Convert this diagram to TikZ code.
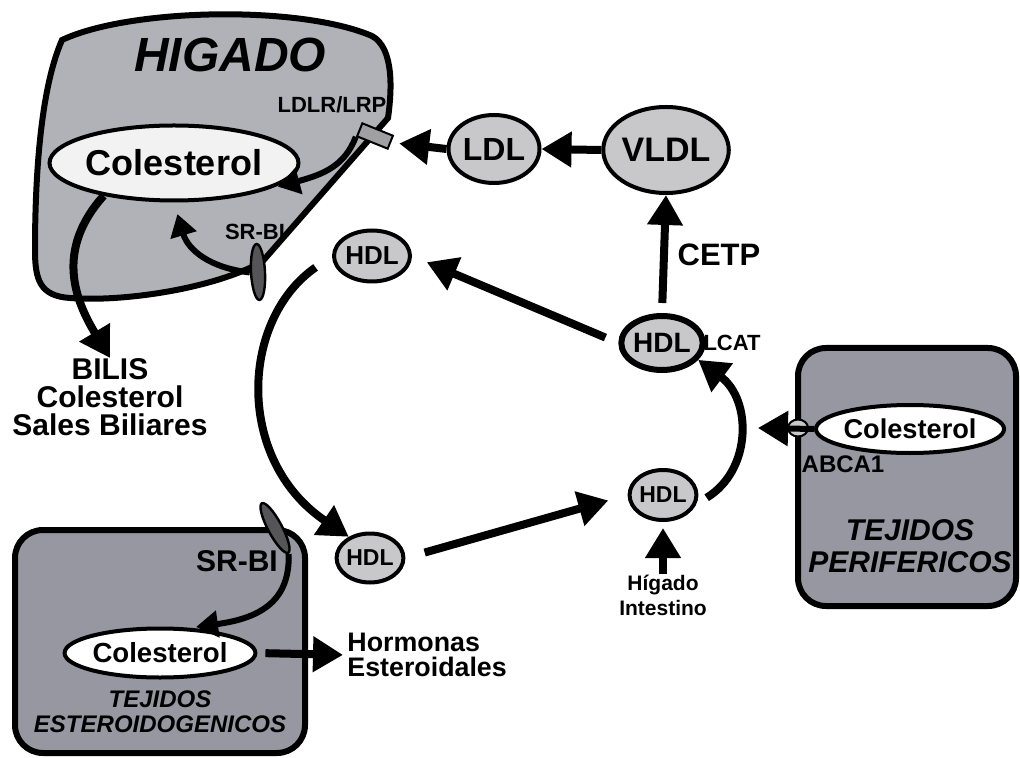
\documentclass[tikz,border=0pt]{standalone}
\usepackage{fontspec}
\setmainfont{Liberation Sans}
\usetikzlibrary{shapes.geometric,arrows.meta,calc}

\definecolor{liverfill}{RGB}{176,178,184}
\definecolor{tissuefill}{RGB}{150,151,160}
\definecolor{lipfill}{RGB}{200,200,202}
\definecolor{srfill}{RGB}{85,85,88}

\newcommand\bfz[2]{\fontsize{#1}{#2}\selectfont\bfseries}

\tikzset{
  organ/.style={draw, line width=3pt, fill=liverfill},
  tissue/.style={draw, line width=3pt, fill=tissuefill, rounded corners=14pt},
  lip/.style={ellipse, draw, line width=2pt, fill=lipfill, inner sep=0pt},
  col/.style={ellipse, draw, line width=2pt, fill=white, inner sep=0pt},
  srbi/.style={ellipse, draw, line width=1.2pt, fill=srfill, inner sep=0pt, minimum width=28pt, minimum height=7pt},
  lbl/.style={inner sep=0pt, align=center},
  flow/.style={line width=4pt, -{Triangle[length=15pt,width=17pt]}},
  inflow/.style={line width=3pt, -{Triangle[length=11pt,width=13pt]}},
}

\begin{document}
\begin{tikzpicture}[x=0.5pt, y=-0.5pt]
  \useasboundingbox (0,0) rectangle (1020,758);
  % organs and tissues
  \draw[organ] (62,40) .. controls (130,8) and (300,5) .. (372,36) .. controls (394,48) and (392,90) .. (388,118) -- (262,262) .. controls (210,290) and (120,302) .. (70,298) .. controls (40,296) and (35,280) .. (35,250) .. controls (35,180) and (40,90) .. (62,40) -- cycle;
  \draw[tissue] (15,530) rectangle (305,753);
  \draw[tissue] (798,348) rectangle (1016,606);

  \node[lbl, font=\bfz{24}{24}\itshape] (higado) at (230,55) {HIGADO};
  \node[lbl, font=\bfz{11}{11}] (ldlrlbl) at (332,105) {LDLR/LRP};
  \node[rectangle, draw, line width=1pt, fill=lipfill!80!black, inner sep=0pt, minimum width=16.5pt, minimum height=7pt, rotate=-22] (ldlr) at (375,136) {};
  \node[col, fill=white!95!black, minimum width=114pt, minimum height=37.5pt, font=\bfz{18}{18}] (colh) at (174,163) {Colesterol};
  \node[lbl, font=\bfz{11}{11}] (srbllbl) at (255,232) {SR-BI};
  \node[srbi, rotate=-87] (srbl) at (258,272) {};
  \node[lbl, font=\bfz{15}{14}] (bilis) at (110,397) {BILIS\\Colesterol\\Sales Biliares};

  % lipoproteins
  \node[lip, minimum width=45.5pt, minimum height=34pt, font=\bfz{16}{16}] (ldl) at (494,149) {LDL};
  \node[lip, minimum width=54pt, minimum height=43pt, font=\bfz{17}{17}] (vldl) at (666,150) {VLDL};
  \node[lip, line width=3pt, minimum width=35.5pt, minimum height=27pt, font=\bfz{14}{14}] (hdlm) at (662,343) {HDL};
  \node[lip, minimum width=38pt, minimum height=25.5pt, font=\bfz{13}{13}] (hdla) at (372,256) {HDL};
  \node[lip, minimum width=30.5pt, minimum height=24.5pt, font=\bfz{11.5}{11.5}] (hdlc) at (370,558) {HDL};
  \node[lip, minimum width=29.5pt, minimum height=25pt, font=\bfz{11.5}{11.5}] (hdln) at (663,495) {HDL};
  \node[lbl, font=\bfz{15.5}{15.5}] (cetp) at (719,255) {CETP};
  \node[lbl, font=\bfz{11}{11}] (lcat) at (732,343) {LCAT};
  \node[lbl, font=\bfz{10.5}{12.5}] (hig) at (663,595) {Hígado\\Intestino};

  % peripheral tissues
  \node[col, minimum width=78pt, minimum height=24pt, font=\bfz{13.6}{13.6}] (colp) at (910,429) {Colesterol};
  \node[ellipse, draw, line width=1pt, fill=lipfill, inner sep=0pt, minimum width=10pt, minimum height=8.5pt] (abca) at (798,428) {};
  \coordinate (efflux) at (758,428);
  \node[lbl, font=\bfz{12}{12}] (abcalbl) at (843,464) {ABCA1};
  \node[lbl, font=\bfz{15}{16}\itshape] (perif) at (910,546) {TEJIDOS\\PERIFERICOS};

  % steroidogenic tissues
  \node[srbi, rotate=-62] (srbs) at (275,528) {};
  \node[lbl, font=\bfz{15}{15}] (srbslbl) at (237,561) {SR-BI};
  \node[col, minimum width=78pt, minimum height=24.5pt, font=\bfz{13.8}{13.8}] (cols) at (160,653) {Colesterol};
  \node[lbl, font=\bfz{12}{12.5}\itshape] (ester) at (160,712) {TEJIDOS\\ESTEROIDOGENICOS};
  \node[lbl, align=left, anchor=west, font=\bfz{13.4}{12.5}] (horm) at (347,655) {Hormonas\\Esteroidales};

  % fluxes
  \draw[flow] (vldl.west) -- (ldl.east);
  \draw[flow, shorten >=4pt] (ldl.west) -- (ldlr.east);
  \draw[inflow, shorten >=4pt] (ldlr.south west) .. controls (345,165) and (325,174) .. (colh.-15);
  \draw[inflow, shorten >=6pt] (srbl.south) .. controls (210,268) and (188,250) .. (colh.south);
  \draw[flow] (colh.205) .. controls (55,250) and (75,300) .. (bilis.north);
  \draw[flow, shorten <=5pt] (hdlm.north) -- (vldl.south);
  \draw[flow, shorten <=7pt, shorten >=8pt] (hdlm.west) -- (hdla.east);
  \draw[flow, shorten <=10pt] (hdla.west) .. controls (240,320) and (235,460) .. (hdlc.135);
  \draw[flow, shorten <=10pt, shorten >=10pt] (hdlc.east) -- (hdln.west);
  \draw[flow, shorten >=3pt] (hig.north) -- (hdln.south);
  \draw[flow, shorten <=6pt] (hdln.-15) .. controls (752,470) and (752,400) .. (hdlm.-25);
  \draw[flow, line width=3pt] (colp.west) -- (efflux);
  \draw[inflow, shorten >=3pt] (srbs.east) .. controls (290,600) and (262,618) .. (cols.40);
  \draw[flow, shorten <=4pt, shorten >=2pt] (cols.east) -- (horm.west);
\end{tikzpicture}
\end{document}
